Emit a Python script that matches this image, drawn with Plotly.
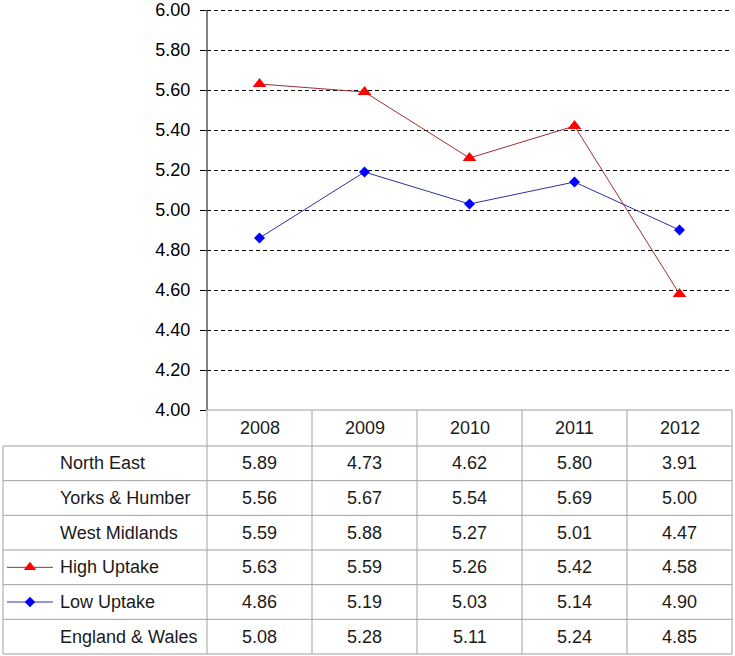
import plotly.graph_objects as go

# ---------------- data ----------------
years = ["2008", "2009", "2010", "2011", "2012"]
row_labels = ["North East", "Yorks & Humber", "West Midlands",
              "High Uptake", "Low Uptake", "England & Wales"]
north_east = [5.89, 4.73, 4.62, 5.80, 3.91]
yorks_humber = [5.56, 5.67, 5.54, 5.69, 5.00]
west_midlands = [5.59, 5.88, 5.27, 5.01, 4.47]
high_uptake = [5.63, 5.59, 5.26, 5.42, 4.58]
low_uptake = [4.86, 5.19, 5.03, 5.14, 4.90]
england_wales = [5.08, 5.28, 5.11, 5.24, 4.85]
table_rows = [north_east, yorks_humber, west_midlands,
              high_uptake, low_uptake, england_wales]
y_ticks = [4.0, 4.2, 4.4, 4.6, 4.8, 5.0, 5.2, 5.4, 5.6, 5.8, 6.0]

# ---------------- layout constants (pixels) ----------------
W, H = 735, 656
PL, PR, PT, PB = 207, 732, 10, 410
Y_MIN, Y_MAX, Y_PAD = 4.0, 6.0, 0.012
TL = 3
HEAD_B = 446
TB = 654
LABEL_X = 58
FONT = "Liberation Sans, Arial, sans-serif"
TXT = "#1a1a1a"
GRID_C = "#a0a0a0"
HIGH_LINE, HIGH_MARK = "#9b3030", "#ff0000"
LOW_LINE, LOW_MARK = "#30309b", "#0000ff"


def xp(px):
    return px / W


def yp(py):
    return 1 - py / H


n = len(years)
col_w = (PR - PL) / n
row_h = (TB - HEAD_B) / len(row_labels)
col_centers = [PL + col_w * (i + 0.5) for i in range(n)]
row_centers = [HEAD_B + row_h * (j + 0.5) for j in range(len(row_labels))]
px_per_unit = (PB - PT) / (Y_MAX - Y_MIN)
top_px = PT - Y_PAD * px_per_unit

fig = go.Figure()

# main lines
xs = list(range(n))
fig.add_trace(go.Scatter(x=xs, y=high_uptake, mode="lines+markers",
                         line=dict(color=HIGH_LINE, width=1),
                         marker=dict(symbol="triangle-up", size=12, color=HIGH_MARK),
                         showlegend=False, hoverinfo="skip", cliponaxis=False))
fig.add_trace(go.Scatter(x=xs, y=low_uptake, mode="lines+markers",
                         line=dict(color=LOW_LINE, width=1),
                         marker=dict(symbol="diamond", size=8.5, color=LOW_MARK),
                         showlegend=False, hoverinfo="skip", cliponaxis=False))

# legend keys inside the table (overlay pixel axes)
key_styles = {"High Uptake": (HIGH_LINE, HIGH_MARK, "triangle-up", 11),
              "Low Uptake": (LOW_LINE, LOW_MARK, "diamond", 8)}
for j, lab in enumerate(row_labels):
    if lab in key_styles:
        lc, mc, sym, sz = key_styles[lab]
        yc = row_centers[j]
        fig.add_trace(go.Scatter(x=[7, 53], y=[yc, yc], mode="lines",
                                 line=dict(color=lc, width=1), xaxis="x2", yaxis="y2",
                                 showlegend=False, hoverinfo="skip"))
        fig.add_trace(go.Scatter(x=[30], y=[yc], mode="markers",
                                 marker=dict(symbol=sym, size=sz, color=mc),
                                 xaxis="x2", yaxis="y2",
                                 showlegend=False, hoverinfo="skip"))

shapes = []


def hline(y, x0, x1):
    shapes.append(dict(type="line", xref="paper", yref="paper",
                       x0=xp(x0), x1=xp(x1), y0=yp(y), y1=yp(y),
                       line=dict(color=GRID_C, width=1)))


def vline(x, y0, y1):
    shapes.append(dict(type="line", xref="paper", yref="paper",
                       x0=xp(x), x1=xp(x), y0=yp(y0), y1=yp(y1),
                       line=dict(color=GRID_C, width=1)))


# black value axis line spanning exactly the axis range
shapes.append(dict(type="line", xref="paper", yref="y",
                   x0=xp(PL), x1=xp(PL), y0=Y_MIN, y1=Y_MAX,
                   line=dict(color="black", width=1)))
hline(PB, PL, PR)
hline(HEAD_B, TL, PR)
for j in range(len(row_labels)):
    hline(HEAD_B + row_h * (j + 1), TL, PR)
vline(TL, HEAD_B, TB)
for i in range(n + 1):
    vline(PL + col_w * i, PB, TB)

annotations = []
for i, yr in enumerate(years):
    annotations.append(dict(x=xp(col_centers[i]), y=yp((PB + HEAD_B) / 2),
                            xref="paper", yref="paper", text=yr, showarrow=False,
                            xanchor="center", yanchor="middle",
                            font=dict(family=FONT, size=18, color=TXT)))
for j, lab in enumerate(row_labels):
    annotations.append(dict(x=xp(LABEL_X), y=yp(row_centers[j]),
                            xref="paper", yref="paper", text=lab, showarrow=False,
                            xanchor="left", yanchor="middle",
                            font=dict(family=FONT, size=18, color=TXT)))
    for i, v in enumerate(table_rows[j]):
        annotations.append(dict(x=xp(col_centers[i]), y=yp(row_centers[j]),
                                xref="paper", yref="paper", text=f"{v:.2f}",
                                showarrow=False, xanchor="center", yanchor="middle",
                                font=dict(family=FONT, size=18, color=TXT)))

fig.update_layout(
    template="none",
    width=W, height=H,
    margin=dict(l=0, r=0, t=0, b=0, pad=0, autoexpand=False),
    paper_bgcolor="white", plot_bgcolor="rgba(0,0,0,0)",
    font=dict(family=FONT, size=18, color="black"),
    xaxis=dict(domain=[xp(PL), xp(PR)], range=[-0.5, n - 0.5],
               showticklabels=False, showgrid=False, zeroline=False,
               showline=False, ticks="", fixedrange=True, automargin=False),
    yaxis=dict(domain=[yp(PB), yp(top_px)], range=[Y_MIN, Y_MAX + Y_PAD],
               tickvals=y_ticks, ticktext=[f"{v:.2f}" for v in y_ticks],
               showgrid=True, gridcolor="black", gridwidth=1, griddash="4px,3px",
               zeroline=False, showline=False,
               ticks="outside", ticklen=6, tickcolor="black", tickwidth=1,
               ticklabelstandoff=6, automargin=False,
               tickfont=dict(family=FONT, size=18, color="black"),
               fixedrange=True),
    xaxis2=dict(domain=[0, 1], range=[0, W], visible=False, fixedrange=True,
                automargin=False),
    yaxis2=dict(domain=[0, 1], range=[H, 0], visible=False, fixedrange=True,
                automargin=False),
    shapes=shapes,
    annotations=annotations,
)

fig.write_html("out.html", config={"displayModeBar": False},
               post_script="document.body.style.margin='0px';")
